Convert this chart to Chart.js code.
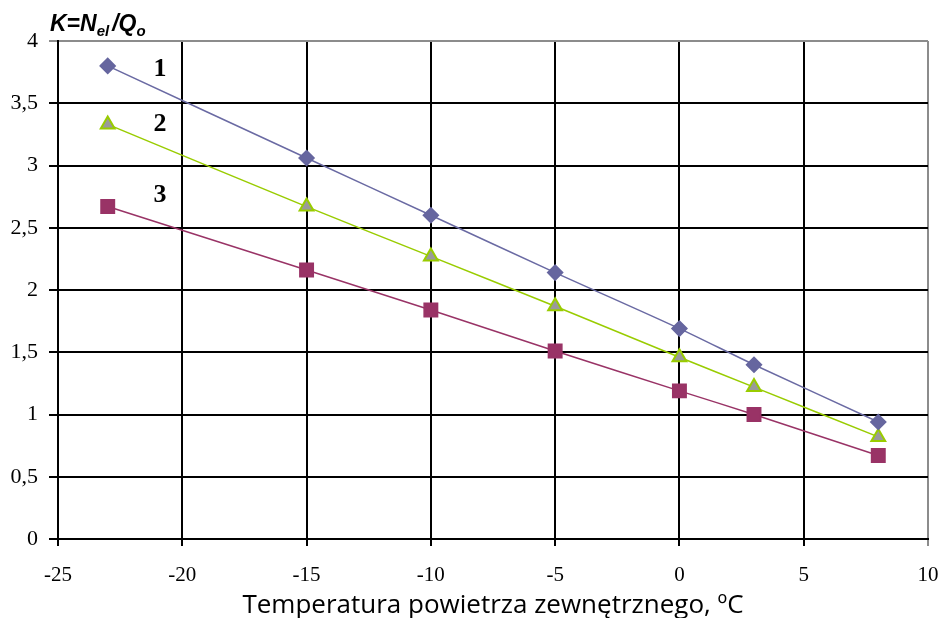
<!DOCTYPE html>
<html>
<head>
<meta charset="utf-8">
<script src="https://cdn.jsdelivr.net/npm/chart.js@4"></script>
<style>
  html, body { margin: 0; padding: 0; background: #fff; }
  #wrap { width: 940px; height: 618px; position: relative; }
</style>
</head>
<body>
<div id="wrap"><canvas id="chart" width="940" height="618"></canvas></div>
<script>
// Temperatures (x values)
const temps = [-23, -15, -10, -5, 0, 3, 8];

// K = Nel / Qo for each curve
const curve1 = [3.8, 3.06, 2.6, 2.14, 1.69, 1.4, 0.94];
const curve2 = [3.33, 2.67, 2.27, 1.87, 1.46, 1.22, 0.82];
const curve3 = [2.67, 2.16, 1.84, 1.51, 1.19, 1.0, 0.67];

// Curve numbers and where they sit
const curveLabels = ['1', '2', '3'];
const labelX = [-20.9, -20.9, -20.9];
const labelY = [3.77, 3.33, 2.76];

// Axis ticks
const xTicks = [-25, -20, -15, -10, -5, 0, 5, 10];
const yTicks = [0, 0.5, 1, 1.5, 2, 2.5, 3, 3.5, 4];

function toPoints(ys) {
  return temps.map((t, i) => ({ x: t, y: ys[i] }));
}

// Draws the "1", "2", "3" curve numbers and the y axis title
const extraText = {
  id: 'extraText',
  afterDraw(chart) {
    const ctx = chart.ctx;
    const xs = chart.scales.x;
    const ys = chart.scales.y;
    ctx.save();
    ctx.fillStyle = '#000';
    ctx.font = 'bold 26px "Liberation Serif"';
    ctx.textAlign = 'center';
    ctx.textBaseline = 'middle';
    curveLabels.forEach((t, i) => {
      ctx.fillText(t, xs.getPixelForValue(labelX[i]), ys.getPixelForValue(labelY[i]));
    });

    // K=Nel/Qo
    ctx.textAlign = 'left';
    ctx.textBaseline = 'alphabetic';
    let x = 50;
    const base = 31;
    const big = 'italic bold 23px "Liberation Sans"';
    const small = 'italic bold 15px "Liberation Sans"';
    const parts = [['K=N', big, 0, 0], ['el', small, 5, 3], ['/Q', big, 0, 0], ['o', small, 5, 0]];
    parts.forEach(p => {
      ctx.font = p[1];
      ctx.fillText(p[0], x, base + p[2]);
      x += ctx.measureText(p[0]).width + p[3];
    });
    ctx.restore();
  }
};

const pointsStyle = {
  borderWidth: 1.5,
  tension: 0.3,
  pointBorderWidth: 1.5
};

new Chart(document.getElementById('chart'), {
  type: 'line',
  data: {
    datasets: [
      Object.assign({}, pointsStyle, {
        label: '1',
        data: toPoints(curve1),
        borderColor: '#6a6aa3',
        backgroundColor: '#6a6aa3',
        pointStyle: 'rectRot',
        pointRadius: 7.5,
        pointBackgroundColor: '#66669f',
        pointBorderColor: '#66669f'
      }),
      Object.assign({}, pointsStyle, {
        label: '2',
        data: toPoints(curve2),
        borderColor: '#99cc00',
        backgroundColor: '#999999',
        pointStyle: 'triangle',
        pointRadius: 8,
        pointBorderWidth: 2,
        pointBackgroundColor: '#9a9a9a',
        pointBorderColor: '#99cc00'
      }),
      Object.assign({}, pointsStyle, {
        label: '3',
        data: toPoints(curve3),
        borderColor: '#993366',
        backgroundColor: '#993366',
        pointStyle: 'rect',
        pointRadius: 9.5,
        pointBackgroundColor: '#993366',
        pointBorderColor: '#993366'
      })
    ]
  },
  options: {
    responsive: false,
    animation: false,
    layout: { padding: { top: 41, right: 12, left: 0, bottom: 0 } },
    plugins: {
      legend: { display: false },
      tooltip: { enabled: false }
    },
    scales: {
      x: {
        type: 'linear',
        min: -25,
        max: 10,
        afterBuildTicks: s => { s.ticks = xTicks.map(v => ({ value: v })); },
        afterFit: s => {
          s.height = 79;
          s.paddingLeft = 0;
          s.paddingRight = 0;
        },
        grid: {
          color: c => (c.tick && c.tick.value === 10 ? '#8c8c8c' : '#000'),
          lineWidth: 2,
          tickLength: 7
        },
        border: { color: '#000', width: 2 },
        ticks: {
          color: '#000',
          font: { family: '"Liberation Serif"', size: 21 },
          padding: 17,
          maxRotation: 0
        },
        title: {
          display: true,
          text: 'Temperatura powietrza zewnętrznego, ºC',
          color: '#000',
          font: { family: '"Open Sans"', size: 26 },
          padding: { top: 0, bottom: -3 }
        }
      },
      y: {
        min: 0,
        max: 4,
        afterBuildTicks: s => { s.ticks = yTicks.map(v => ({ value: v })); },
        afterFit: s => {
          s.width = 58;
          s.paddingTop = 0;
          s.paddingBottom = 0;
        },
        grid: {
          color: c => (c.tick && c.tick.value === 4 ? '#8c8c8c' : '#000'),
          lineWidth: 2,
          tickLength: 9
        },
        border: { color: '#000', width: 2 },
        ticks: {
          color: '#000',
          font: { family: '"Liberation Serif"', size: 22 },
          padding: 11,
          callback: v => String(v).replace('.', ',')
        }
      }
    }
  },
  plugins: [extraText]
});
</script>
</body>
</html>
